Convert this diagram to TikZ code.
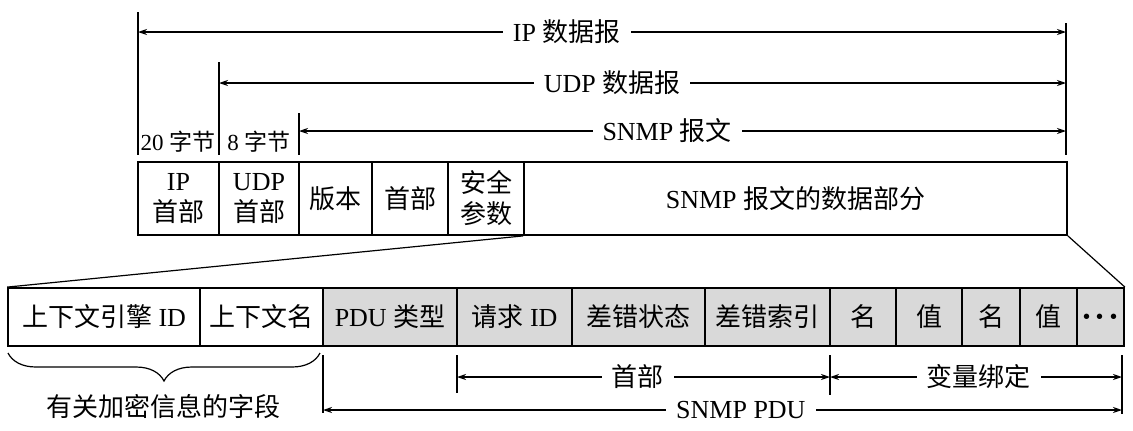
\documentclass[tikz,border=0pt]{standalone}
\usepackage{fontspec}
\setmainfont{Liberation Serif}
\newfontfamily\cjk{Noto Sans CJK SC}
\usetikzlibrary{arrows.meta, decorations.pathreplacing}
\newcommand{\zh}[1]{{\cjk #1}}
\newcommand{\drawCell}[7]{% style, name, left, right, top, bottom, text
  \node[#1, minimum width={(#4-#3)*0.5pt}, minimum height={(#6-#5)*0.5pt}] (#2) at ({(#3+#4)/2},{(#5+#6)/2}) {#7};
}
\tikzset{
  cell/.style={draw, line width=0.9pt, inner sep=0pt, align=center, font=\fontsize{13}{15.5}\selectfont},
  pducell/.style={cell, fill=gray!30},
  dimline/.style={{Stealth[length=4.5pt,width=3pt]}-{Stealth[length=4.5pt,width=3pt]}, line width=0.65pt},
  tickline/.style={line width=0.65pt},
  dimlabel/.style={fill=white, inner xsep=5pt, inner ysep=1pt, font=\fontsize{13}{15}\selectfont}
}

\begin{document}
\begin{tikzpicture}[x=0.5pt, y=-0.5pt]
  \useasboundingbox (0,0) rectangle (1133,430);
  % SNMP message inside UDP / IP
  \drawCell{cell}{iphdr}{138}{219}{162}{235}{IP\\\zh{首部}}
  \drawCell{cell}{udphdr}{219}{299}{162}{235}{UDP\\\zh{首部}}
  \drawCell{cell}{ver}{299}{372}{162}{235}{\zh{版本}}
  \drawCell{cell}{hdr}{372}{448}{162}{235}{\zh{首部}}
  \drawCell{cell}{sec}{448}{524}{162}{235}{\zh{安全}\\\zh{参数}}
  \drawCell{cell}{data}{524}{1067}{162}{235}{SNMP \zh{报文的数据部分}}

  \coordinate (ipTop) at (138,12);   \coordinate (ipBot) at (138,155);
  \coordinate (endTop) at (1066,23); \coordinate (endBot) at (1066,155);
  \coordinate (udpTop) at (219,62);  \coordinate (udpBot) at (219,155);
  \coordinate (snmpTop) at (299,113); \coordinate (snmpBot) at (299,155);
  \foreach \t/\b in {ipTop/ipBot, endTop/endBot, udpTop/udpBot, snmpTop/snmpBot}
    \draw[tickline] (\t) -- (\b);

  \coordinate (ipL) at (138,32);   \coordinate (ipR) at (1066,32);
  \coordinate (udpL) at (219,83);  \coordinate (udpR) at (1066,83);
  \coordinate (snmpL) at (299,131); \coordinate (snmpR) at (1066,131);
  \draw[dimline] (ipL) -- (ipR) node[dimlabel, pos=0.462] (ipLbl) {IP \zh{数据报}};
  \draw[dimline] (udpL) -- (udpR) node[dimlabel, pos=0.464] (udpLbl) {UDP \zh{数据报}};
  \draw[dimline] (snmpL) -- (snmpR) node[dimlabel, pos=0.48] (snmpLbl) {SNMP \zh{报文}};

  \node[font=\fontsize{11.5}{13}\selectfont] (ipBytes) at (178,142) {20 \zh{字节}};
  \node[font=\fontsize{11.5}{13}\selectfont] (udpBytes) at (259,142) {8 \zh{字节}};

  % expanded data part
  \drawCell{cell}{engine}{8}{200}{288}{346}{\zh{上下文引擎} ID}
  \drawCell{cell}{ctx}{200}{323}{288}{346}{\zh{上下文名}}
  \drawCell{pducell}{pdutype}{323}{457}{288}{346}{PDU \zh{类型}}
  \drawCell{pducell}{reqid}{457}{572}{288}{346}{\zh{请求} ID}
  \drawCell{pducell}{errstat}{572}{705}{288}{346}{\zh{差错状态}}
  \drawCell{pducell}{erridx}{705}{830}{288}{346}{\zh{差错索引}}
  \drawCell{pducell}{nameA}{830}{896}{288}{346}{\zh{名}}
  \drawCell{pducell}{valA}{896}{962}{288}{346}{\zh{值}}
  \drawCell{pducell}{nameB}{962}{1020}{288}{346}{\zh{名}}
  \drawCell{pducell}{valB}{1020}{1077}{288}{346}{\zh{值}}
  \drawCell{pducell}{more}{1077}{1124}{288}{346}{{\fontsize{17}{17}\selectfont\boldmath$\cdot\!\cdot\!\cdot$}}

  \draw[line width=0.6pt] (data.south west) -- (engine.north west);
  \draw[line width=0.6pt] (data.south east) -- (more.north east);

  \coordinate (braceL) at (8,353); \coordinate (braceR) at (320,353);
  \draw[line width=0.6pt, decorate, decoration={brace, mirror, amplitude=14pt, aspect=0.5}] (braceL) -- (braceR);
  \node[font=\fontsize{13}{15}\selectfont] (cryptoLbl) at (163,407) {\zh{有关加密信息的字段}};

  \coordinate (pduTop) at (323,355);  \coordinate (pduBot) at (323,413);
  \coordinate (reqTop) at (457,355);  \coordinate (reqBot) at (457,393);
  \coordinate (midTop) at (830,355);  \coordinate (midBot) at (830,395);
  \coordinate (lastTop) at (1122,355); \coordinate (lastBot) at (1122,414);
  \foreach \t/\b in {pduTop/pduBot, reqTop/reqBot, midTop/midBot, lastTop/lastBot}
    \draw[tickline] (\t) -- (\b);

  \coordinate (hdrL) at (457,377);  \coordinate (hdrR) at (830,377);
  \coordinate (varL) at (830,377);  \coordinate (varR) at (1122,377);
  \coordinate (pduL) at (323,410);  \coordinate (pduR) at (1122,410);
  \draw[dimline] (hdrL) -- (hdrR) node[dimlabel, pos=0.485] (hdrLbl) {\zh{首部}};
  \draw[dimline] (varL) -- (varR) node[dimlabel, pos=0.51] (varLbl) {\zh{变量绑定}};
  \draw[dimline] (pduL) -- (pduR) node[dimlabel, pos=0.523] (pduLbl) {SNMP PDU};
\end{tikzpicture}
\end{document}
